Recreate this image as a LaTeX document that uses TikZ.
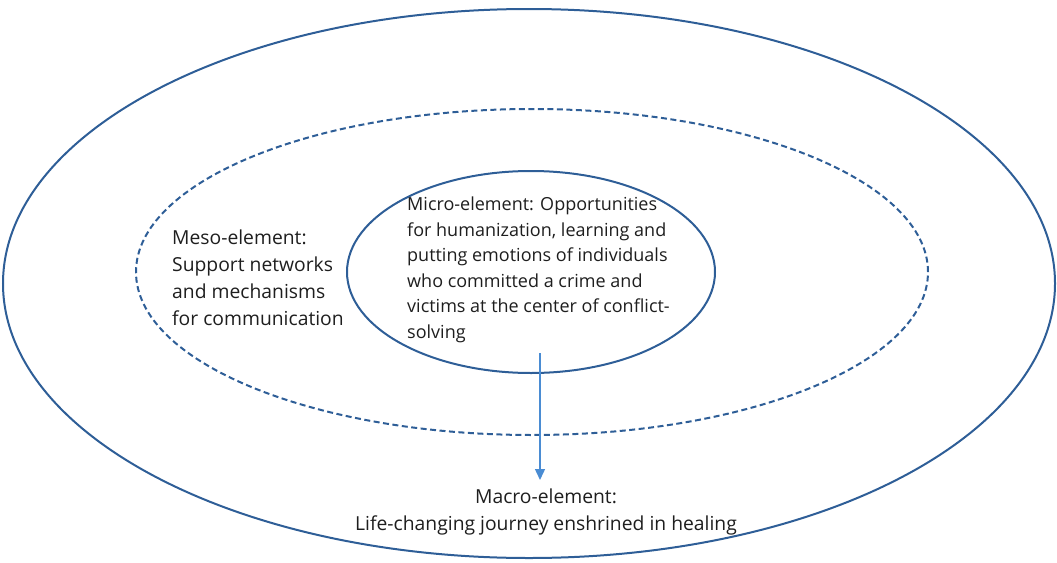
\documentclass[tikz,border=0pt]{standalone}
\usepackage{fontspec}
\setmainfont{Open Sans}
\usetikzlibrary{shapes.geometric,arrows.meta}
\definecolor{ringblue}{HTML}{2E5E97}
\definecolor{arrowblue}{HTML}{4A8CD3}
\definecolor{txt}{HTML}{1E1E1E}
\begin{document}
\begin{tikzpicture}[x=1pt,y=-1pt,
  ring/.style={draw=ringblue,line width=2pt,ellipse,inner sep=0pt},
  lbl/.style={text=txt,inner sep=0pt,font=\fontsize{18}{25.5}\selectfont}]
\useasboundingbox (0,0) rectangle (1057,562);
\node[ring,minimum width=1052pt,minimum height=549pt] (outer) at (529,283.5) {};
\node[ring,dash pattern=on 6pt off 3.5pt,minimum width=792pt,minimum height=326pt] (meso) at (532,272) {};
\node[ring,minimum width=368pt,minimum height=202pt] (micro) at (531,272) {};
\node[lbl,anchor=north west,align=left] (microtxt) at (407,197) {Micro-element: Opportunities\\for humanization, learning and\\putting emotions of individuals\\who committed a crime and\\victims at the center of conflict-\\solving};
\node[lbl,anchor=north west,align=left,font=\fontsize{19.3}{27}\selectfont] (mesotxt) at (172,230) {Meso-element:\\Support networks\\and mechanisms\\for communication};
\node[lbl,anchor=north,align=center,font=\fontsize{19.3}{26.5}\selectfont] (macrotxt) at (546,489) {Macro-element:\\Life-changing journey enshrined in healing};
\coordinate (astart) at (540,353);
\coordinate (aend) at (540,480);
\draw[arrowblue,line width=1.4pt,-{Triangle[length=11pt,width=10pt]}] (astart) -- (aend);
\end{tikzpicture}
\end{document}
